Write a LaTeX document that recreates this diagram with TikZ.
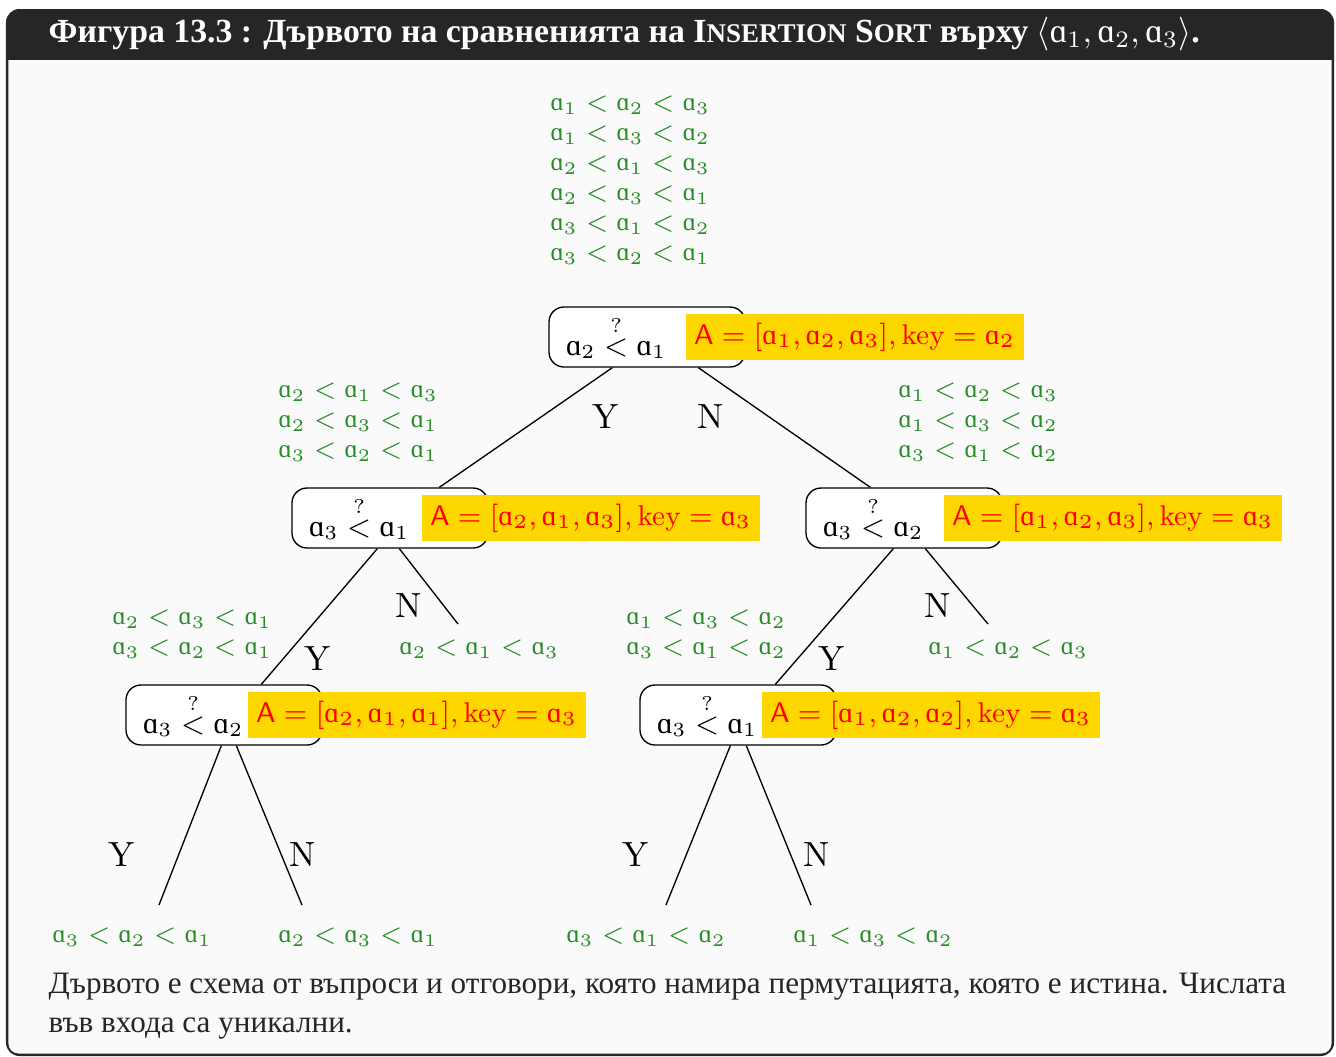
\RequirePackage{fix-cm}
\documentclass[tikz,border=0pt]{standalone}
\usepackage{amsmath}
\usepackage{fontspec}
\usetikzlibrary{calc}
\newfontfamily\cyr{Liberation Serif}
\newfontfamily\ipa{Liberation Serif}
\definecolor{boxdark}{HTML}{262626}
\definecolor{boxbg}{HTML}{FAFAFA}
\definecolor{permgreen}{RGB}{40,140,40}
\definecolor{keyred}{RGB}{255,0,0}
\definecolor{keyyellow}{RGB}{255,215,0}
\newcommand{\va}[1]{\text{\normalfont\ipa ɑ}_{#1}}
\newcommand{\qcmp}[2]{$\va{#1}\overset{?}{<}\va{#2}$}
\newcommand{\perm}[3]{$\va{#1}<\va{#2}<\va{#3}$}
\newcommand{\keyarr}[4]{$\textsf{A}=[\va{#1},\va{#2},\va{#3}],\text{key}=\va{#4}$}

\begin{document}
\begin{tikzpicture}[x=0.3pt,y=-0.3pt,
  qnode/.style={draw,fill=white,rounded corners=4.5pt,minimum height=18pt,inner xsep=5.1pt,inner ysep=1pt,
    text width=48.6pt,align=left,font=\fontsize{9}{11}\selectfont},
  keybox/.style={fill=keyyellow,text=keyred,anchor=west,inner xsep=2.5pt,inner ysep=1pt,minimum height=13.8pt,
    font=\fontsize{8.55}{11}\selectfont},
  perms/.style={text=permgreen,anchor=west,align=left,inner sep=0pt,font=\fontsize{7.6}{9}\selectfont},
  yn/.style={font=\fontsize{10.5}{12}\selectfont}]
\useasboundingbox (0,0) rectangle (1336,1057);
\fill[boxdark,rounded corners=4pt] (6,9) rectangle (1334,1056);
\fill[boxbg,rounded corners=3pt] (8.5,40) rectangle (1331.5,1053.5);
\fill[boxdark] (8.5,40) rectangle (1331.5,60);
\node[anchor=west,inner sep=0pt,text=white,font=\cyr\bfseries\fontsize{10.13}{12}\selectfont] (title) at (48,34)
  {Фигура 13.3 : Дървото на сравненията на I{\fontsize{8.1}{10}\selectfont NSERTION} S{\fontsize{8.1}{10}\selectfont ORT} върху $\langle\va1,\va2,\va3\rangle$.};

\node[qnode] (root) at (647,337) {\qcmp21};
\node[qnode] (L) at (390,518) {\qcmp31};
\node[qnode] (R) at (904,518) {\qcmp32};
\node[qnode] (LL) at (224,715) {\qcmp32};
\node[qnode] (RL) at (738,715) {\qcmp31};
\coordinate (Lleaf) at (458,624); \coordinate (Rleaf) at (988,624);
\coordinate (LLy) at (159,905); \coordinate (LLn) at (302,905);
\coordinate (RLy) at (666,905); \coordinate (RLn) at (811,905);
\draw ($(root.south west)+(64,0)$)--($(L.north west)+(148,0)$);
\draw ($(root.south west)+(150,0)$)--($(R.north west)+(65,0)$);
\draw ($(L.south west)+(86,0)$)--($(LL.north west)+(136,0)$);
\draw ($(L.south west)+(108,0)$)--(Lleaf);
\draw ($(R.south west)+(88,0)$)--($(RL.north west)+(136,0)$);
\draw ($(R.south west)+(120,0)$)--(Rleaf);
\draw ($(LL.south west)+(96,0)$)--(LLy); \draw ($(LL.south west)+(111,0)$)--(LLn);
\draw ($(RL.south west)+(91,0)$)--(RLy); \draw ($(RL.south west)+(107,0)$)--(RLn);
\node[keybox] (rootkey) at (685,337) {\keyarr1232};
\node[keybox] (Lkey) at (421,518) {\keyarr2133};
\node[keybox] (Rkey) at (943,518) {\keyarr1233};
\node[keybox] (LLkey) at (247,715) {\keyarr2113};
\node[keybox] (RLkey) at (761,715) {\keyarr1223};

\node[yn] (rooty) at (606,417) {Y}; \node[yn] (rootn) at (711,417) {N};
\node[yn] (Ly) at (318,659) {Y}; \node[yn] (Ln) at (409,606) {N};
\node[yn] (Ry) at (832,659) {Y}; \node[yn] (Rn) at (938,606) {N};
\node[yn] (LLyl) at (122,855) {Y}; \node[yn] (LLnl) at (303,855) {N};
\node[yn] (RLyl) at (636,855) {Y}; \node[yn] (RLnl) at (817,855) {N};

\node[perms] (rootperms) at (550,180) {\perm123\\\perm132\\\perm213\\\perm231\\\perm312\\\perm321};
\node[perms] (Lperms) at (278,422) {\perm213\\\perm231\\\perm321};
\node[perms] (Rperms) at (898,422) {\perm123\\\perm132\\\perm312};
\node[perms] (LLperms) at (112,634) {\perm231\\\perm321};
\node[perms] (RLperms) at (626,634) {\perm132\\\perm312};
\node[perms] (Lleafp) at (399,649) {\perm213};
\node[perms] (Rleafp) at (928,649) {\perm123};
\node[perms] (LLyp) at (52,937) {\perm321};
\node[perms] (LLnp) at (278,937) {\perm231};
\node[perms] (RLyp) at (566,937) {\perm312};
\node[perms] (RLnp) at (793,937) {\perm132};

\node[anchor=west,align=left,inner sep=0pt,text=black!85,font=\cyr\fontsize{9.35}{11.7}\selectfont] (caption) at (48,1006)
  {Дървото е схема от въпроси и отговори, която намира пермутацията, която е истина. Числата\\във входа са уникални.};
\end{tikzpicture}
\end{document}
